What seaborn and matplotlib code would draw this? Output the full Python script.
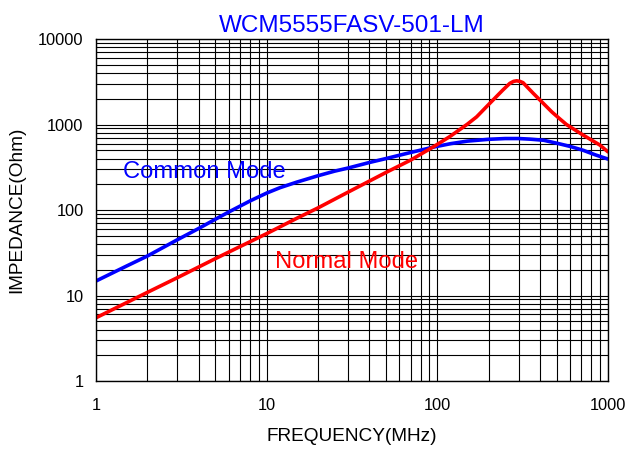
import matplotlib
matplotlib.use("Agg")
import matplotlib.pyplot as plt
import matplotlib.ticker as mticker
import seaborn as sns
import pandas as pd

# values
common_freq = [1, 1.5, 2, 3, 4, 5, 6, 8, 10, 12, 15, 20, 25, 30, 40, 50, 70, 95, 120, 150, 200,
               250, 300, 350, 420, 520, 600, 716, 850, 1000]
common_imp = [14.8, 22, 29, 45, 61, 78, 95, 128, 158, 183, 212, 252, 285, 310, 360, 400, 472, 545, 598, 640, 672,
              686, 686, 675, 655, 595, 555, 500, 440, 395]

normal_freq = [1, 2, 3, 5, 7, 10, 15, 20, 30, 50, 70, 95, 118, 135, 150, 170, 203, 242, 266, 280, 292,
               305, 318, 365, 418, 470, 524, 572, 716, 897, 1000]
normal_imp = [5.5, 10.9, 16.2, 27, 37.5, 53, 80, 106, 162, 275, 385, 550, 720, 870, 1010, 1230, 1770, 2530, 3030, 3200, 3250,
              3200, 3090, 2320, 1770, 1400, 1160, 1000, 753, 576, 480]

sns.set_style("white")
plt.rcParams['font.family'] = ['Liberation Sans', 'DejaVu Sans']

df_c = pd.DataFrame({"freq": common_freq, "imp": common_imp})
df_n = pd.DataFrame({"freq": normal_freq, "imp": normal_imp})

fig = plt.figure(figsize=(6.28, 4.49), dpi=100)
ax = fig.add_axes([0.153, 0.1514, 0.815, 0.7616])

sns.lineplot(data=df_c, x="freq", y="imp", color="#0000ff", lw=2.6, ax=ax, sort=False)
sns.lineplot(data=df_n, x="freq", y="imp", color="#ff0000", lw=2.6, ax=ax, sort=False)

ax.set_xscale("log")
ax.set_yscale("log")
ax.set_xlim(1, 1000)
ax.set_ylim(1, 10000)

ax.xaxis.set_major_locator(mticker.FixedLocator([1, 10, 100, 1000]))
ax.xaxis.set_major_formatter(mticker.FixedFormatter(["1", "10", "100", "1000"]))
ax.yaxis.set_major_locator(mticker.FixedLocator([1, 10, 100, 1000, 10000]))
ax.yaxis.set_major_formatter(mticker.FixedFormatter(["1", "10", "100", "1000", "10000"]))
ax.xaxis.set_minor_locator(mticker.LogLocator(base=10, subs=range(2, 10)))
ax.yaxis.set_minor_locator(mticker.LogLocator(base=10, subs=range(2, 10)))
ax.xaxis.set_minor_formatter(mticker.NullFormatter())
ax.yaxis.set_minor_formatter(mticker.NullFormatter())

ax.grid(True, which="both", color="black", lw=0.8)
ax.set_axisbelow(True)
ax.tick_params(which="both", length=0, labelcolor="black")
ax.tick_params(axis="x", labelsize=11.8, pad=12)
ax.tick_params(axis="y", labelsize=11.8, pad=9)
for s in ax.spines.values():
    s.set_color("black")
    s.set_linewidth(1)

ax.set_xlabel("FREQUENCY(MHz)", fontsize=13.7, labelpad=11, color="black")
ax.set_ylabel("IMPEDANCE(Ohm)", fontsize=13.7, labelpad=9, color="black")
ax.set_title("WCM5555FASV-501-LM", fontsize=17.5, color="#0000ff", pad=5)

ax.text(1.44, 278, "Common Mode", color="#0000ff", fontsize=17.1, va="center", ha="left")
ax.text(11.2, 24.7, "Normal Mode", color="#ff0000", fontsize=17.1, va="center", ha="left")

plt.savefig("out.png", dpi=100)
plt.close()
